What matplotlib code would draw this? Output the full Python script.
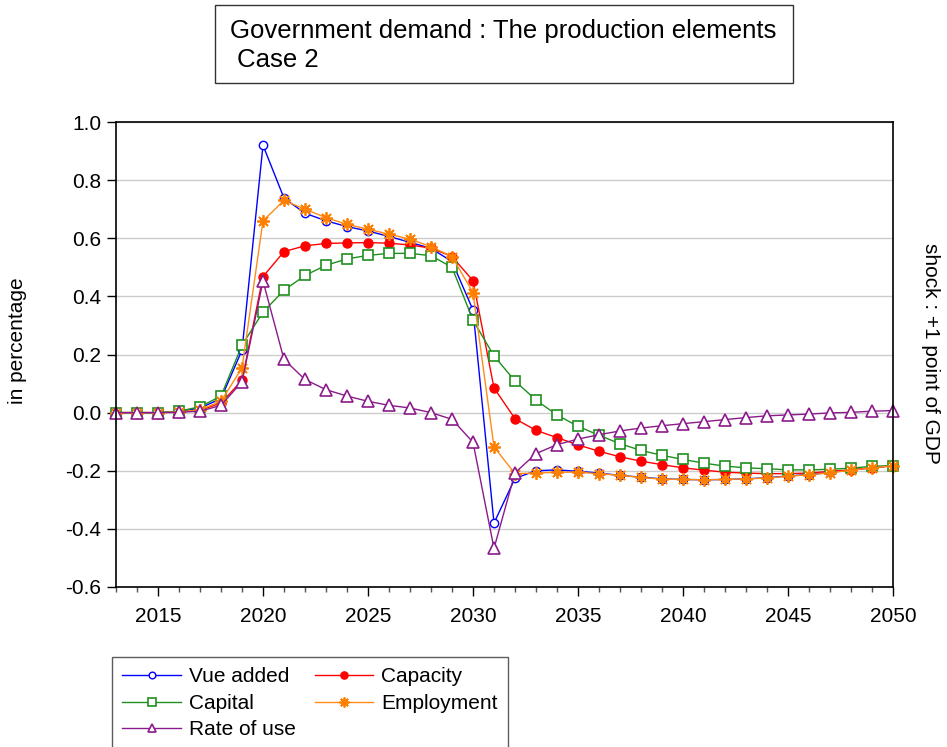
import matplotlib
matplotlib.use("Agg")
import matplotlib.pyplot as plt
from matplotlib.patches import Rectangle
from matplotlib.ticker import MultipleLocator
import numpy as np

plt.rcParams['font.family'] = ['Liberation Sans', 'DejaVu Sans']

years = np.arange(2013, 2051)

vue_added = [0, 0, 0, 0.003, 0.016, 0.048, 0.215, 0.92, 0.738, 0.686,
             0.66, 0.64, 0.625, 0.606, 0.586, 0.565, 0.52, 0.353, -0.38, -0.226,
             -0.2, -0.197, -0.202, -0.208, -0.216, -0.222, -0.228, -0.23, -0.231, -0.23,
             -0.228, -0.224, -0.218, -0.213, -0.206, -0.197, -0.19, -0.182]
capacity = [0, 0, 0, 0.002, 0.008, 0.033, 0.111, 0.468, 0.554, 0.574,
            0.582, 0.584, 0.585, 0.583, 0.577, 0.566, 0.537, 0.454, 0.085, -0.021,
            -0.061, -0.086, -0.111, -0.133, -0.152, -0.167, -0.179, -0.19, -0.198, -0.205,
            -0.208, -0.21, -0.21, -0.208, -0.202, -0.197, -0.19, -0.183]
capital = [0, 0, 0, 0.005, 0.02, 0.057, 0.232, 0.346, 0.421, 0.472,
           0.507, 0.529, 0.541, 0.548, 0.548, 0.54, 0.5, 0.318, 0.195, 0.109,
           0.043, -0.008, -0.047, -0.078, -0.107, -0.13, -0.147, -0.161, -0.174, -0.184,
           -0.19, -0.193, -0.197, -0.197, -0.195, -0.191, -0.185, -0.182]
employment = [0, 0, 0, 0.002, 0.01, 0.039, 0.154, 0.66, 0.73, 0.70,
              0.671, 0.648, 0.631, 0.614, 0.597, 0.571, 0.537, 0.413, -0.118, -0.21,
              -0.208, -0.205, -0.205, -0.21, -0.216, -0.223, -0.229, -0.23, -0.231, -0.23,
              -0.228, -0.225, -0.219, -0.214, -0.207, -0.198, -0.19, -0.183]
rate_of_use = [0, 0, 0, 0.001, 0.005, 0.025, 0.106, 0.453, 0.183, 0.114,
               0.079, 0.057, 0.039, 0.025, 0.016, 0.0, -0.023, -0.102, -0.467, -0.207,
               -0.141, -0.11, -0.091, -0.076, -0.063, -0.053, -0.045, -0.038, -0.031, -0.024,
               -0.017, -0.011, -0.008, -0.005, -0.001, 0.001, 0.005, 0.007]

fig = plt.figure(figsize=(9.47, 7.47), dpi=100)
ax = fig.add_axes([116 / 947, 1 - 587 / 747, 777 / 947, 465 / 747])

l1, = ax.plot(years, vue_added, color='#0000ff', lw=1, marker='o', ms=6,
              mfc='white', mec='#0000ff', mew=1, label='Vue added', clip_on=False)
l2, = ax.plot(years, capacity, color='#ff0000', lw=1, marker='o', ms=6.5,
              mfc='#ff0000', mec='#ff0000', label='Capacity', clip_on=False)
l3, = ax.plot(years, capital, color='#1f8f1f', lw=1, marker='s', ms=7,
              mfc='white', mec='#1f8f1f', mew=1.2, label='Capital', clip_on=False)
l4, = ax.plot(years, employment, color='#ff8c1a', lw=1, marker=(8, 2, 0), ms=9,
              mec='#ff8000', mew=1.3, label='Employment', clip_on=False)
l5, = ax.plot(years, rate_of_use, color='#8b1a8b', lw=1, marker='^', ms=8,
              mfc='white', mec='#8b1a8b', mew=1.2, label='Rate of use', clip_on=False)

ax.set_xlim(2013, 2050)
ax.set_ylim(-0.6, 1.0)
ax.xaxis.set_major_locator(MultipleLocator(5))
ax.xaxis.set_minor_locator(MultipleLocator(1))
ax.yaxis.set_major_locator(MultipleLocator(0.2))
ax.yaxis.set_major_formatter(matplotlib.ticker.FormatStrFormatter('%.1f'))
ax.tick_params(axis='x', which='major', direction='out', length=6.5, width=1,
               labelsize=15, pad=8)
ax.tick_params(axis='x', which='minor', direction='out', length=3.5, width=1,
               color='#555555')
ax.tick_params(axis='y', direction='out', length=6.5, width=1, labelsize=15, pad=4)
ax.grid(axis='y', color='#cccccc', lw=1)
ax.set_axisbelow(True)
for s in ax.spines.values():
    s.set_color('black')
    s.set_linewidth(1.2)

fig.text(18 / 947, 1 - 341 / 747, 'in percentage', rotation=90, fontsize=15,
         ha='center', va='center')
fig.text(930 / 947, 1 - 353 / 747, 'shock : +1 point of GDP', rotation=270,
         fontsize=15, ha='center', va='center')

# title box
fig.patches.append(Rectangle((215 / 947, 1 - 83 / 747), 578 / 947, 78 / 747,
                             transform=fig.transFigure, fill=False,
                             edgecolor='#333333', lw=1))
fig.text(230 / 947, 1 - 19 / 747, 'Government demand : The production elements\n Case 2',
         fontsize=18.5, ha='left', va='top', linespacing=1.25)

leg = fig.legend([l1, l3, l5, l2, l4],
                 ['Vue added', 'Capital', 'Rate of use', 'Capacity', 'Employment'],
                 ncol=2, loc='upper left', bbox_to_anchor=(112 / 947, 1 - 657 / 747),
                 fontsize=15, frameon=True, fancybox=False, edgecolor='#333333',
                 handlelength=2.8, handletextpad=0.4, columnspacing=0.9,
                 labelspacing=0.36, borderpad=0.5, markerscale=0.8, borderaxespad=0)
leg.get_frame().set_linewidth(1)

fig.savefig('out.png', dpi=100)
